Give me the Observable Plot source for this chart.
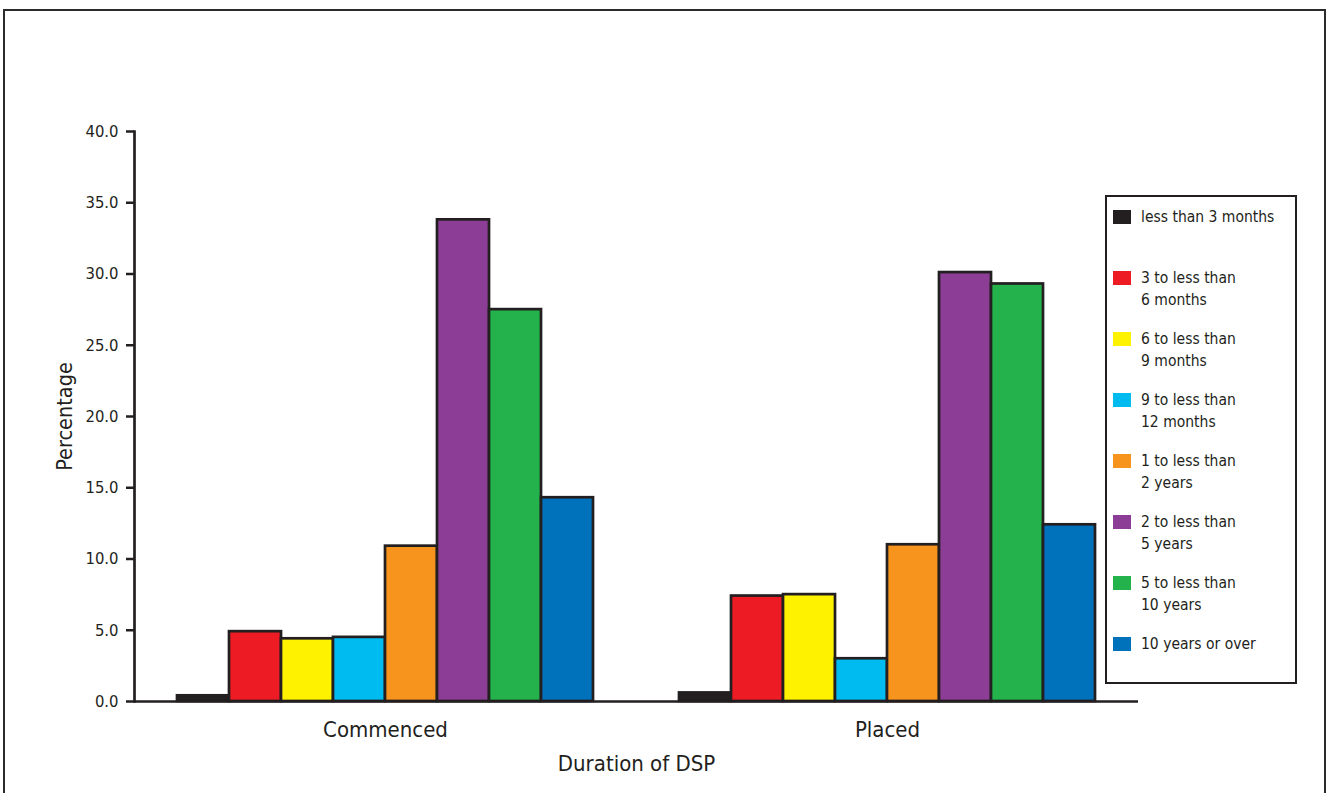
<!DOCTYPE html>
<html>
<head>
<meta charset="utf-8">
<script src="https://cdn.jsdelivr.net/npm/d3@7"></script>
<script src="https://cdn.jsdelivr.net/npm/@observablehq/plot@0.6"></script>
<style>
  html, body { margin: 0; padding: 0; background: #fff; }
  body {
    width: 1332px; height: 793px; overflow: hidden; position: relative;
    font-family: "Liberation Sans Narrow", "Arial Narrow", "DejaVu Sans Condensed", sans-serif;
    color: #231f20;
  }
  #border {
    position: absolute; left: 3px; top: 8.5px; width: 1323px; height: 900px;
    border: 2.7px solid #2b2b2b; box-sizing: border-box; pointer-events: none;
  }
  #chart { position: absolute; left: 0; top: 0; }
  #chart g[aria-label="y-axis label"] { font-size: 21.5px; }
  #legend {
    position: absolute; left: 1105px; top: 195px; width: 192px; height: 489px;
    border: 2.7px solid #231f20; box-sizing: border-box; background: #fff;
    padding: 9px 0 0 6px;
  }
  .item { display: flex; align-items: flex-start; height: 61px; }
  .swatch { width: 18px; height: 14px; margin-top: 4px; margin-right: 10px; flex: none; }
  .label { font-size: 15.5px; line-height: 22px; white-space: pre-line; }
</style>
</head>
<body>
<div id="chart"></div>
<div id="legend"></div>
<div id="border"></div>
<script>
// Duration of DSP, by status (percentages)
const groups = ["Commenced", "Placed"];
const durations = [
  "less than 3 months",
  "3 to less than 6 months",
  "6 to less than 9 months",
  "9 to less than 12 months",
  "1 to less than 2 years",
  "2 to less than 5 years",
  "5 to less than 10 years",
  "10 years or over"
];
const colors = ["#231f20", "#ed1c24", "#fff200", "#00bbf0", "#f7941d", "#8c3d95", "#23b24b", "#0071bb"];
const commenced = [0.4, 4.9, 4.4, 4.5, 10.9, 33.8, 27.5, 14.3];
const placed    = [0.6, 7.4, 7.5, 3.0, 11.0, 30.1, 29.3, 12.4];
const yTicks = [0, 5, 10, 15, 20, 25, 30, 35, 40];

const seriesByGroup = [commenced, placed];
const rows = groups.flatMap((group, gi) =>
  durations.map((duration, i) => ({group, duration, value: seriesByGroup[gi][i]}))
);

const ink = "#231f20";

const chart = Plot.plot({
  width: 1332,
  height: 793,
  marginLeft: 133,
  marginRight: 194,
  marginTop: 131,
  marginBottom: 92,
  style: {
    fontFamily: '"Liberation Sans Narrow", "Arial Narrow", "DejaVu Sans Condensed", sans-serif',
    color: ink,
    background: "transparent"
  },
  facet: {marginTop: 0, marginRight: 0, marginBottom: 0, marginLeft: 0},
  fx: {domain: groups, padding: 0},
  x: {domain: durations, paddingInner: 0, paddingOuter: 0.74, axis: null},
  y: {domain: [0, 40]},
  color: {domain: durations, range: colors},
  marks: [
    Plot.barY(rows, {
      fx: "group", x: "duration", y: "value", fill: "duration",
      stroke: ink, strokeWidth: 2.7
    }),
    Plot.ruleY([0], {stroke: ink, strokeWidth: 2.7}),
    Plot.frame({anchor: "left", facetAnchor: "left", stroke: ink, strokeWidth: 2.7}),
    Plot.axisY({
      ticks: yTicks, tickFormat: d => d.toFixed(1),
      tickSize: 8, tickPadding: 8, fontSize: 16.5, strokeWidth: 2.5, stroke: ink,
      label: "Percentage", labelAnchor: "center", labelOffset: 78, labelArrow: "none"
    }),
    Plot.axisFx({
      anchor: "bottom", tickSize: 0, tickPadding: 20, fontSize: 22,
      label: "Duration of DSP", labelAnchor: "center", labelOffset: 69, labelArrow: "none"
    })
  ]
});
document.getElementById("chart").appendChild(chart);

// Legend box on the right
const legend = d3.select("#legend");
const legendText = d => d.replace(/^(\d+ to less than) /, "$1\n");
durations.forEach((d, i) => {
  const item = legend.append("div").attr("class", "item");
  item.append("div").attr("class", "swatch").style("background", colors[i]);
  item.append("div").attr("class", "label").text(legendText(d));
});
</script>
</body>
</html>
